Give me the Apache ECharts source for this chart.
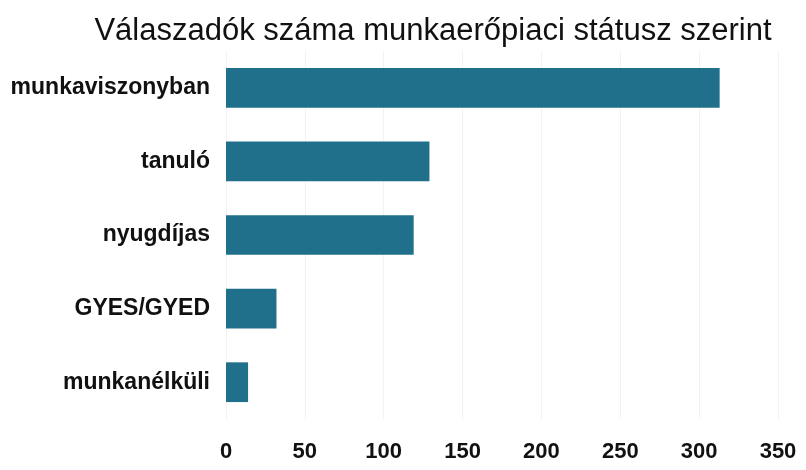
<!DOCTYPE html>
<html><head><meta charset="utf-8">
<script src="https://cdn.jsdelivr.net/npm/echarts@6/dist/echarts.min.js"></script>
<style>html,body{margin:0;padding:0;background:#fff}#c{width:806px;height:470px}</style>
</head><body><div id="c"></div>
<script>
const categories = ['munkaviszonyban', 'tanuló', 'nyugdíjas', 'GYES/GYED', 'munkanélküli'];
const values = [313, 129, 119, 32, 14];
const xTicks = [0, 50, 100, 150, 200, 250, 300, 350];

const chart = echarts.init(document.getElementById('c'), null, {renderer: 'canvas'});
chart.setOption({
  animation: false,
  backgroundColor: '#ffffff',
  title: {
    text: 'Válaszadók száma munkaerőpiaci státusz szerint',
    left: 428, top: 11, textAlign: 'center',
    textStyle: {fontFamily: 'Liberation Sans, Arial', fontSize: 31, fontWeight: 'normal', color: '#111'}
  },
  grid: {left: 226, right: 28, top: 51, height: 368, containLabel: false},
  xAxis: {
    type: 'value', min: 0, max: 350, interval: 50,
    axisLine: {show: false}, axisTick: {show: false},
    splitLine: {show: true, lineStyle: {color: '#f2f2f2', width: 1}},
    axisLabel: {margin: 22, fontFamily: 'Liberation Sans, Arial', fontSize: 22, fontWeight: 'bold', color: '#111',
      formatter: v => xTicks.includes(v) ? String(v) : ''}
  },
  yAxis: {
    type: 'category', data: categories, inverse: true,
    axisLine: {show: false}, axisTick: {show: false},
    axisLabel: {margin: 16, fontFamily: 'Liberation Sans, Arial', fontSize: 23, fontWeight: 'bold', color: '#111'}
  },
  series: [{
    type: 'bar', data: values, barCategoryGap: '46%',
    itemStyle: {color: '#20708c'}
  }]
});
</script></body></html>
